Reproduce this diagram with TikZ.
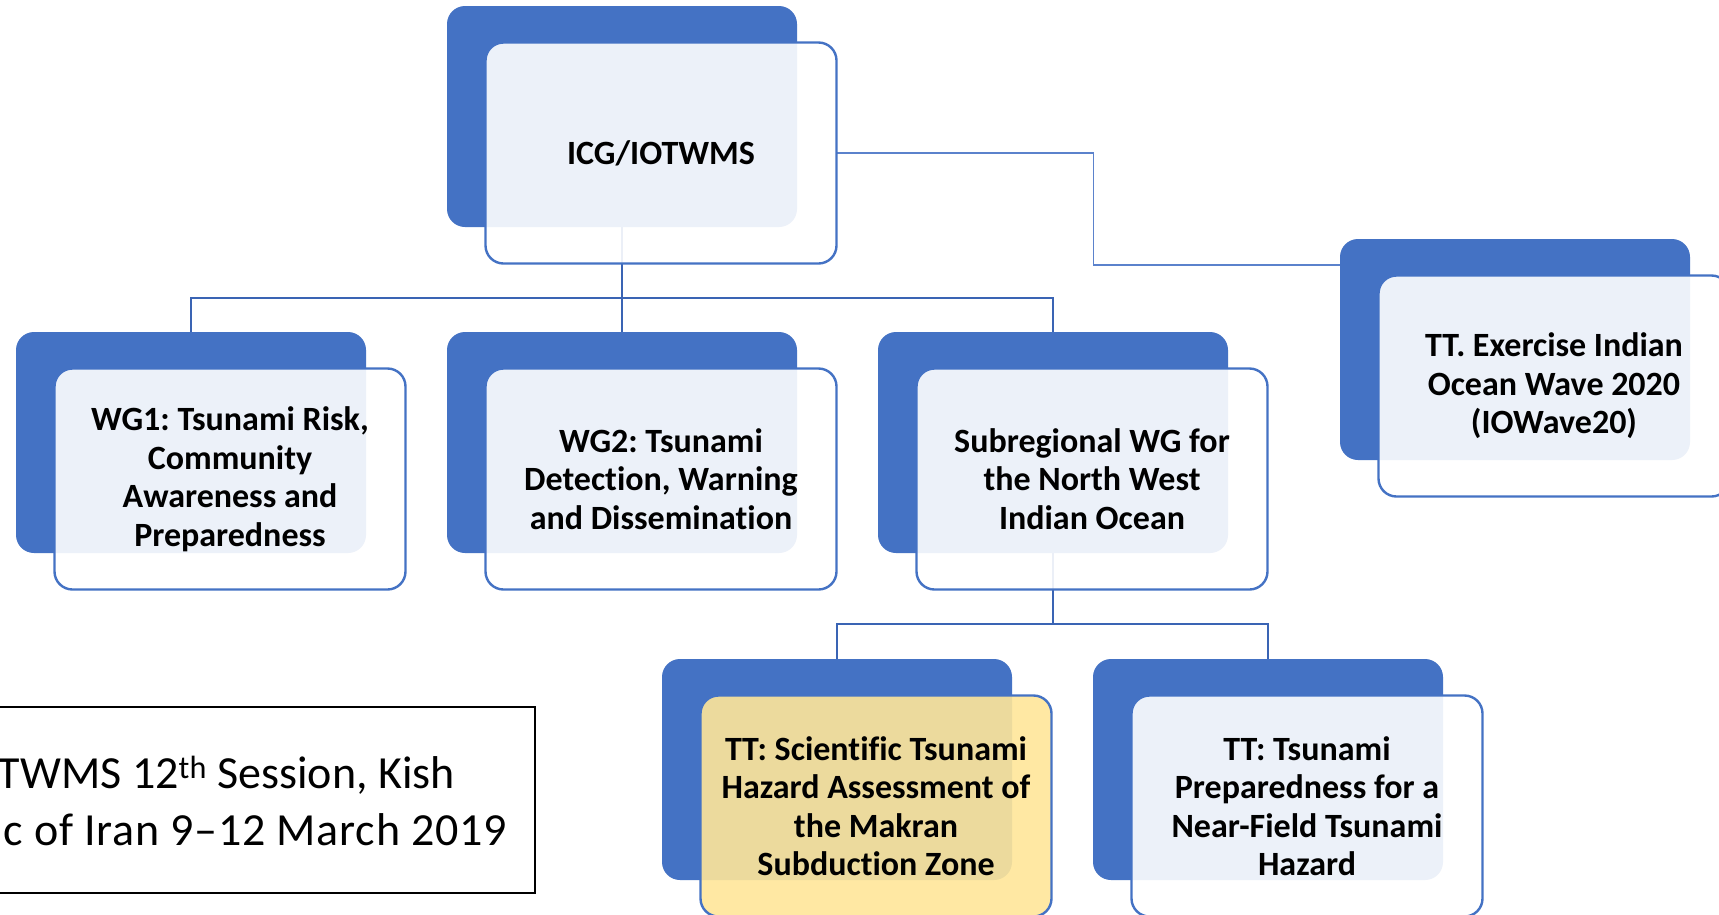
\documentclass[tikz,border=0pt]{standalone}
\usepackage{fontspec}
\setmainfont{Carlito}[Ligatures={TeX,NoCommon}]
\usetikzlibrary{backgrounds}
\definecolor{sablue}{HTML}{4472C4}
\definecolor{conndark}{HTML}{3A64B4}
\definecolor{connlight}{HTML}{5B82CC}
\definecolor{tyellow}{HTML}{FFE699}
\frenchspacing
\begin{document}
\begin{tikzpicture}[x=1pt,y=-1pt,
  backbox/.style={rectangle, rounded corners=18pt, fill=sablue, minimum width=350pt, minimum height=221pt, inner sep=0pt, outer sep=0pt, anchor=north west},
  frontbox/.style={rectangle, rounded corners=18pt, draw=sablue, line width=2.4pt, fill=white, fill opacity=0.9, text opacity=1, draw opacity=1, minimum width=351pt, minimum height=221pt, inner sep=0pt, outer sep=0pt, anchor=north west, align=center, font=\bfseries\fontsize{34}{38.5}\selectfont},
  tree/.style={draw=conndark, line width=2.2pt},
  side/.style={draw=connlight, line width=1.3pt},
  infotext/.style={anchor=base east, inner sep=0pt, font=\fontsize{46}{57}\selectfont},
]
\useasboundingbox (0,0) rectangle (1719,914);

% back shapes
\node[backbox] (icgB)  at (447,6) {};
\node[backbox] (wg1B)  at (16,332) {};
\node[backbox] (wg2B)  at (447,332) {};
\node[backbox] (subB)  at (878,332) {};
\node[backbox] (ttexB) at (1340,239) {};
\node[backbox] (sciB)  at (662,659) {};
\node[backbox] (prepB) at (1093,659) {};

% front shapes with text
\node[frontbox] (icgF)  at (485.5,42.5) {ICG/IOTWMS};
\node[frontbox] (wg1F)  at (54.5,368.5) {WG1: Tsunami Risk,\\Community\\Awareness and\\Preparedness};
\node[frontbox] (wg2F)  at (485.5,368.5) {WG2: Tsunami\\Detection, Warning\\and Dissemination};
\node[frontbox] (subF)  at (916.5,368.5) {Subregional WG for\\the North West\\Indian Ocean};
\node[frontbox] (ttexF) at (1378.5,275.5) {TT. Exercise Indian\\Ocean Wave 2020\\(IOWave20)};
\node[frontbox, fill=tyellow] (sciF) at (700.5,695.5) {TT: Scientific Tsunami\\Hazard Assessment of\\the Makran\\Subduction Zone};
\node[frontbox] (prepF) at (1131.5,695.5) {TT: Tsunami\\Preparedness for a\\Near-Field Tsunami\\Hazard};

% session text box
\node[draw=black, line width=2pt, rectangle, minimum width=575pt, minimum height=186pt, inner sep=0pt, outer sep=0pt, anchor=north east] (infobox) at (535,707) {};
\node[infotext] (info1) at (455,788) {TWMS 12\textsuperscript{th} Session, Kish};
\node[infotext] (info2) at (507,845) {\addfontfeatures{LetterSpace=1.6}c of Iran 9–12 March 2019};

\begin{pgfonlayer}{background}
\fill[white] (0,0) rectangle (1719,914);
\coordinate (bar1) at (622,298);
\draw[tree] (icgB.south) -- (bar1);
\draw[tree] (bar1) -| (wg1B.north);
\draw[tree] (bar1) -- (wg2B.north);
\draw[tree] (bar1) -| (subB.north);
\coordinate (bar2) at (1053,624);
\draw[tree] (subB.south) -- (bar2);
\draw[tree] (bar2) -| (sciB.north);
\draw[tree] (bar2) -| (prepB.north);
\coordinate (elb) at (1093.5,265);
\draw[side] (icgF.east) -| (elb) -- (elb -| ttexB.west);
\end{pgfonlayer}
\end{tikzpicture}
\end{document}
